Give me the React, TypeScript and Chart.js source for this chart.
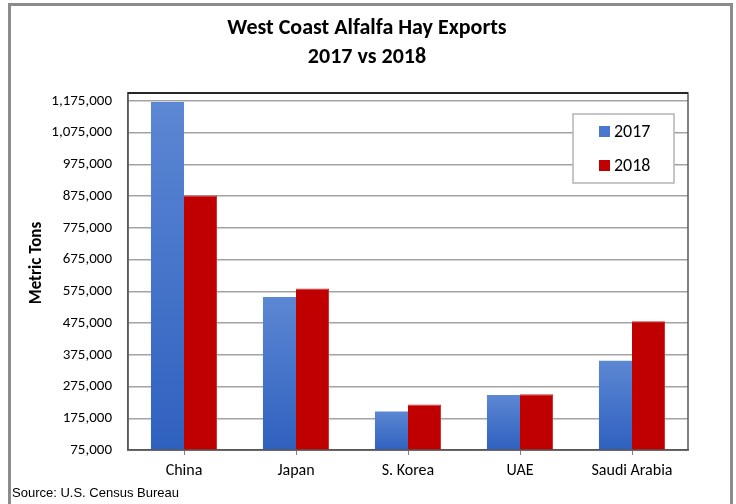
import React, { useEffect, useRef } from "react";
import { Chart, registerables } from "chart.js";

Chart.register(...registerables);

const categories = ["China", "Japan", "S. Korea", "UAE", "Saudi Arabia"];
const exports2017 = [1172000, 557000, 196000, 248000, 356000];
const exports2018 = [877000, 584000, 218000, 251000, 481000];
const yTicks = [75000, 175000, 275000, 375000, 475000, 575000, 675000, 775000, 875000, 975000, 1075000, 1175000];
const seriesLabels = ["2017", "2018"];
const titleLines = ["West Coast Alfalfa Hay Exports", "2017 vs 2018"];
const yTitle = "Metric Tons";
const sourceText = "Source: U.S. Census Bureau";

const CAL = "Carlito, Calibri, Lato, sans-serif";

const decorPlugin = {
  id: "decor",
  beforeDraw(chart: any) {
    const ctx = chart.ctx;
    ctx.save();
    ctx.fillStyle = "#ffffff";
    ctx.fillRect(0, 0, chart.width, chart.height);
    ctx.strokeStyle = "#8c8c8c";
    ctx.lineWidth = 3;
    ctx.beginPath();
    ctx.moveTo(9.5, 520);
    ctx.lineTo(9.5, 4.5);
    ctx.lineTo(731.5, 4.5);
    ctx.lineTo(731.5, 520);
    ctx.stroke();
    ctx.restore();
  },
  afterDraw(chart: any) {
    const ctx = chart.ctx;
    const a = chart.chartArea;
    ctx.save();
    // titles
    ctx.fillStyle = "#000";
    ctx.textAlign = "center";
    ctx.textBaseline = "middle";
    ctx.font = `bold 22px ${CAL}`;
    ctx.fillText(titleLines[0], 367, 28);
    ctx.fillText(titleLines[1], 367, 57);
    // y title
    ctx.save();
    ctx.translate(37, 263);
    ctx.rotate(-Math.PI / 2);
    ctx.font = `bold 17px ${CAL}`;
    ctx.fillText(yTitle, 0, 0);
    ctx.restore();
    // source
    ctx.textAlign = "left";
    ctx.font = `13px "Liberation Sans", Arial, sans-serif`;
    ctx.fillText(sourceText, 12, 493);
    // plot frame
    ctx.strokeStyle = "#595959";
    ctx.lineWidth = 1.5;
    ctx.strokeRect(a.left, a.top, a.right - a.left, a.bottom - a.top);
    ctx.strokeStyle = "#262626";
    ctx.lineWidth = 2;
    ctx.beginPath();
    ctx.moveTo(a.left, a.top);
    ctx.lineTo(a.right, a.top);
    ctx.stroke();
    // legend
    const lx = 573, ly = 114, lw = 101, lh = 69;
    ctx.fillStyle = "#ffffff";
    ctx.fillRect(lx, ly, lw, lh);
    ctx.strokeStyle = "#b4b4b4";
    ctx.lineWidth = 1.5;
    ctx.strokeRect(lx, ly, lw, lh);
    const colors = ["#4a78cf", "#c00000"];
    const ys = [131, 165];
    ctx.font = `18px ${CAL}`;
    ctx.textBaseline = "middle";
    for (let i = 0; i < 2; i++) {
      ctx.fillStyle = colors[i];
      ctx.fillRect(599, ys[i] - 5, 11, 11);
      ctx.fillStyle = "#000";
      ctx.fillText(seriesLabels[i], 614, ys[i] + 1);
    }
    ctx.restore();
  },
};

export default function App() {
  const ref = useRef<HTMLCanvasElement>(null);
  useEffect(() => {
    if (!ref.current) return;
    const blueGrad = (c: any) => {
      const chart = c.chart;
      const area = chart.chartArea;
      const ys = chart.scales.y;
      if (!area || !ys || c.raw == null) return "#4a78cf";
      const top = ys.getPixelForValue(c.raw);
      const g = chart.ctx.createLinearGradient(0, top, 0, area.bottom);
      g.addColorStop(0, "#5c87d3");
      g.addColorStop(1, "#2f61c0");
      return g;
    };
    const chart = new Chart(ref.current, {
      type: "bar",
      data: {
        labels: categories,
        datasets: [
          {
            label: seriesLabels[0],
            data: exports2017,
            backgroundColor: blueGrad,
            borderWidth: 0,
            categoryPercentage: 0.59,
            barPercentage: 1,
          },
          {
            label: seriesLabels[1],
            data: exports2018,
            backgroundColor: "#c00000",
            borderColor: "#d42a2a",
            borderWidth: { top: 1, left: 0, right: 1, bottom: 0 },
            categoryPercentage: 0.59,
            barPercentage: 1,
          },
        ],
      },
      options: {
        animation: false,
        responsive: false,
        maintainAspectRatio: false,
        layout: { padding: { top: 93, left: 0, right: 48, bottom: 0 } },
        plugins: {
          legend: { display: false },
          title: { display: false },
          tooltip: { enabled: false },
        },
        scales: {
          x: {
            grid: {
              offset: false,
              drawOnChartArea: false,
              drawTicks: true,
              tickLength: 5,
              color: "#7f7f7f",
            },
            border: { display: true, color: "#595959", width: 1.5 },
            ticks: {
              color: "#000",
              padding: 6,
              font: { family: CAL, size: 16 },
              maxRotation: 0,
              autoSkip: false,
            },
            afterFit: (s: any) => {
              s.height = 54;
            },
          },
          y: {
            min: 75000,
            max: 1200000,
            afterBuildTicks: (s: any) => {
              s.ticks = yTicks.map((v) => ({ value: v }));
            },
            grid: {
              color: "#a3a3a3",
              lineWidth: 1.5,
              drawTicks: false,
            },
            border: { display: true, color: "#595959", width: 1.5 },
            ticks: {
              color: "#000",
              padding: 16,
              font: { family: CAL, size: 15 },
              callback: (v: any) => Number(v).toLocaleString("en-US"),
            },
            afterFit: (s: any) => {
              s.width = 128;
            },
          },
        },
      },
      plugins: [decorPlugin],
    });
    return () => chart.destroy();
  }, []);
  return (
    <div style={{ position: "absolute", left: 0, top: 0, width: 736, height: 504 }}>
      <canvas ref={ref} width={736} height={504} style={{ width: 736, height: 504, display: "block" }} />
    </div>
  );
}
